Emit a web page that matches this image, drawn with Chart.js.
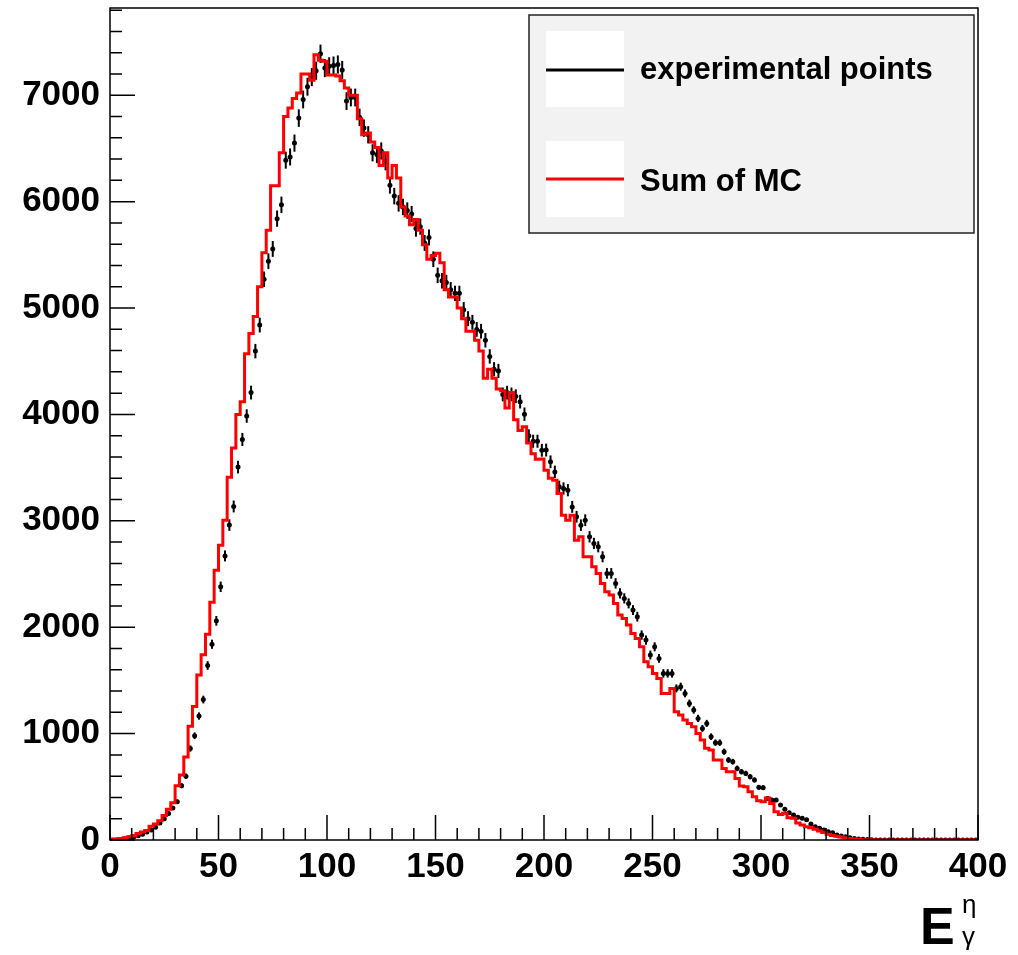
<!DOCTYPE html>
<html>
<head>
<meta charset="utf-8">
<script src="https://cdn.jsdelivr.net/npm/chart.js@4.4.0/dist/chart.umd.min.js"></script>
<style>
  html, body { margin: 0; padding: 0; background: #fff; }
</style>
</head>
<body>
<canvas id="histChart" width="1018" height="955"></canvas>
<script>
// histogram: 200 bins of width 2 between 0 and 400
const binWidth = 2;
const xMin = 0, xMax = 400;
const yMax = 7820;

const xTickValues = [0, 50, 100, 150, 200, 250, 300, 350, 400];
const xTickLabels = ['0', '50', '100', '150', '200', '250', '300', '350', '400'];
const yTickValues = [0, 1000, 2000, 3000, 4000, 5000, 6000, 7000];
const yTickLabels = ['0', '1000', '2000', '3000', '4000', '5000', '6000', '7000'];

const dataCounts = [
  0, 0, 5, 10, 20, 30, 40, 55, 75, 95,
  120, 160, 200, 250, 300, 360, 510, 600, 860, 980,
  1165, 1320, 1640, 1840, 2060, 2380, 2670, 2960, 3135, 3505,
  3765, 3985, 4205, 4595, 4840, 5270, 5440, 5555, 5840, 5970,
  6390, 6420, 6550, 6785, 6960, 7080, 7170, 7230, 7390, 7255,
  7272, 7279, 7289, 7238, 6945, 6979, 6979, 6792, 6691, 6628,
  6459, 6442, 6476, 6374, 6154, 6052, 5984, 5950, 5916, 5883,
  5747, 5765, 5612, 5663, 5459, 5307, 5256, 5240, 5172, 5138,
  5138, 4985, 4900, 4866, 4799, 4782, 4697, 4545, 4425, 4409,
  4188, 4205, 4188, 4171, 4120, 4002, 3799, 3748, 3748, 3663,
  3665, 3555, 3460, 3320, 3304, 3288, 3131, 3038, 2959, 3006,
  2850, 2787, 2756, 2662, 2506, 2506, 2412, 2318, 2271, 2224,
  2161, 2099, 1926, 1879, 1738, 1816, 1707, 1566, 1566, 1566,
  1425, 1441, 1378, 1284, 1222, 1143, 1049, 1096, 971, 915,
  915, 830, 752, 736, 673, 642, 626, 595, 564, 495,
  492, 390, 376, 376, 329, 288, 257, 235, 213, 204,
  190, 150, 125, 110, 94, 78, 69, 47, 38, 30,
  22, 15, 10, 6, 4, 2, 1, 1, 0, 0,
  0, 0, 0, 0, 0, 0, 0, 0, 0, 0,
  0, 0, 0, 0, 0, 0, 0, 0, 0, 0
];

const mcCounts = [
  5, 5, 10, 15, 20, 30, 40, 60, 75, 90,
  130, 150, 180, 230, 290, 350, 510, 610, 780, 1070,
  1255, 1550, 1740, 1935, 2235, 2535, 2770, 3005, 3410, 3685,
  4000, 4120, 4570, 4760, 4920, 5200, 5520, 5730, 6150, 6150,
  6460, 6800, 6880, 6970, 7020, 7200, 7200, 7140, 7380, 7330,
  7320, 7190, 7190, 7180, 7136, 7069, 7000, 7000, 6780, 6628,
  6645, 6560, 6510, 6340, 6459, 6221, 6340, 6221, 5950, 5866,
  5782, 5832, 5731, 5594, 5459, 5493, 5516, 5425, 5172, 5103,
  5103, 5001, 4900, 4782, 4782, 4697, 4595, 4341, 4425, 4341,
  4239, 4222, 4060, 4205, 3951, 3850, 3883, 3731, 3630, 3579,
  3580, 3476, 3400, 3382, 3257, 3053, 3006, 3053, 2818, 2850,
  2662, 2662, 2568, 2506, 2412, 2333, 2302, 2224, 2114, 2083,
  2020, 1942, 1894, 1816, 1675, 1628, 1566, 1519, 1378, 1378,
  1425, 1206, 1175, 1128, 1096, 1065, 1002, 940, 862, 846,
  752, 752, 673, 642, 642, 579, 507, 501, 454, 407,
  370, 360, 395, 344, 266, 240, 251, 210, 204, 160,
  141, 125, 115, 100, 85, 70, 55, 42, 35, 28,
  20, 14, 10, 6, 3, 2, 2, 1, 1, 1,
  1, 1, 1, 1, 1, 1, 1, 1, 1, 1,
  1, 1, 1, 1, 1, 1, 1, 1, 1, 1
];

const mcSteps = mcCounts.map((v, i) => ({ x: xMin + i * binWidth, y: v }));
mcSteps.push({ x: xMax, y: mcCounts[mcCounts.length - 1] });
const dataPoints = dataCounts.map((v, i) => ({ x: xMin + i * binWidth + binWidth / 2, y: v }));

const FONT = '"Liberation Sans", Arial, Helvetica, sans-serif';

// error bars (sqrt N) under the markers
const errorBars = {
  id: 'errorBars',
  beforeDatasetsDraw(chart) {
    const { ctx, scales: { x, y } } = chart;
    ctx.save();
    ctx.strokeStyle = '#000';
    ctx.lineWidth = 2;
    dataPoints.forEach(p => {
      if (p.y <= 0) return;
      const e = Math.sqrt(p.y);
      const px = x.getPixelForValue(p.x);
      ctx.beginPath();
      ctx.moveTo(px, y.getPixelForValue(p.y - e));
      ctx.lineTo(px, y.getPixelForValue(p.y + e));
      ctx.stroke();
    });
    ctx.restore();
  }
};

// frame, inward ticks, legend box, axis title
const rootFrame = {
  id: 'rootFrame',
  afterDraw(chart) {
    const { ctx, chartArea: a, scales: { x, y } } = chart;
    ctx.save();
    ctx.strokeStyle = '#000';
    ctx.lineWidth = 1.5;
    ctx.strokeRect(a.left, a.top, a.right - a.left, a.bottom - a.top);

    ctx.beginPath();
    for (let v = 0; v <= 400; v += 10) {
      const px = x.getPixelForValue(v);
      const len = v % 50 === 0 ? 25 : 12;
      ctx.moveTo(px, a.bottom);
      ctx.lineTo(px, a.bottom - len);
    }
    for (let v = 0; v <= yMax; v += 200) {
      const py = y.getPixelForValue(v);
      const len = v % 1000 === 0 ? 25 : 12;
      ctx.moveTo(a.left, py);
      ctx.lineTo(a.left + len, py);
    }
    ctx.stroke();

    // legend
    ctx.fillStyle = '#f2f2f2';
    ctx.fillRect(529, 15, 445, 218);
    ctx.strokeStyle = '#222';
    ctx.lineWidth = 1.5;
    ctx.strokeRect(529, 15, 445, 218);
    ctx.fillStyle = '#fff';
    ctx.fillRect(546, 31, 78, 76);
    ctx.fillRect(546, 141, 78, 76);
    ctx.lineWidth = 3;
    ctx.strokeStyle = '#000';
    ctx.beginPath(); ctx.moveTo(546, 70); ctx.lineTo(624, 70); ctx.stroke();
    ctx.strokeStyle = '#ff0000';
    ctx.beginPath(); ctx.moveTo(546, 179); ctx.lineTo(624, 179); ctx.stroke();
    ctx.fillStyle = '#000';
    ctx.font = 'bold 31px ' + FONT;
    ctx.textAlign = 'left';
    ctx.textBaseline = 'middle';
    ctx.fillText('experimental points', 640, 70);
    ctx.fillText('Sum of MC', 640, 182);

    // axis title E with eta / gamma
    ctx.textBaseline = 'alphabetic';
    ctx.font = 'bold 52px ' + FONT;
    ctx.fillText('E', 920, 944);
    ctx.font = '26px ' + FONT;
    ctx.fillText('\u03b7', 962, 913);
    ctx.fillText('\u03b3', 962, 945);
    ctx.restore();
  }
};

const ctx = document.getElementById('histChart').getContext('2d');
new Chart(ctx, {
  type: 'scatter',
  data: {
    datasets: [
      {
        label: 'Sum of MC',
        type: 'line',
        data: mcSteps,
        stepped: 'after',
        borderColor: '#ff0000',
        borderWidth: 3,
        pointRadius: 0,
        fill: false
      },
      {
        label: 'experimental points',
        data: dataPoints,
        pointRadius: 2.5,
        pointStyle: 'circle',
        backgroundColor: '#000',
        borderColor: '#000',
        borderWidth: 0
      }
    ]
  },
  options: {
    responsive: false,
    animation: false,
    devicePixelRatio: 1,
    layout: { padding: { left: 0, top: 8, right: 40, bottom: 0 } },
    plugins: { legend: { display: false }, tooltip: { enabled: false } },
    scales: {
      x: {
        type: 'linear',
        min: xMin,
        max: xMax,
        afterBuildTicks: s => { s.ticks = xTickValues.map(v => ({ value: v })); },
        afterFit: s => { s.height = 115; s.paddingLeft = 0; s.paddingRight = 0; },
        grid: { display: false, drawTicks: false },
        border: { display: false },
        ticks: {
          padding: 6,
          color: '#000',
          maxRotation: 0,
          autoSkip: false,
          font: { family: FONT, size: 35, weight: 'bold' },
          callback: (v) => xTickLabels[xTickValues.indexOf(v)]
        }
      },
      y: {
        type: 'linear',
        min: 0,
        max: yMax,
        afterBuildTicks: s => { s.ticks = yTickValues.map(v => ({ value: v })); },
        afterFit: s => { s.width = 110; s.paddingTop = 0; s.paddingBottom = 0; },
        grid: { display: false, drawTicks: false },
        border: { display: false },
        ticks: {
          padding: 10,
          color: '#000',
          autoSkip: false,
          font: { family: FONT, size: 35, weight: 'bold' },
          callback: (v) => yTickLabels[yTickValues.indexOf(v)]
        }
      }
    }
  },
  plugins: [errorBars, rootFrame]
});
</script>
</body>
</html>
